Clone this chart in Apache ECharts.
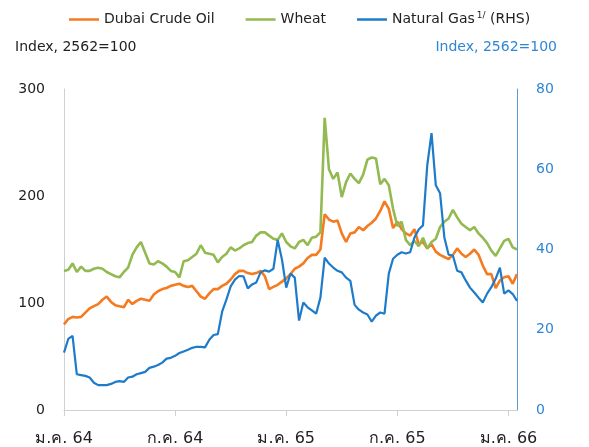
<!DOCTYPE html>
<html>
<head>
<meta charset="utf-8">
<script src="https://cdn.jsdelivr.net/npm/echarts@6/dist/echarts.min.js"></script>
<style>
  html, body { margin: 0; padding: 0; background: #fff; }
  #chart { width: 589px; height: 447px; }
</style>
</head>
<body>
<div id="chart"></div>
<script>
// weekly index, 2562 = 100 (Jan 2021 - Jan 2023)
var oilData = [
  80, 85, 87, 86.5, 87, 91, 95, 97, 99, 103, 106, 101, 98, 97, 96, 103, 99, 102, 104, 103,
  102, 108, 111, 113, 114, 116, 117, 118, 116, 115, 116, 111, 106, 104, 109, 113, 113, 116, 118, 122,
  127, 130, 130, 128, 127, 128, 130, 125, 113, 115, 117, 120, 123, 127, 132, 134, 137, 142, 145, 145,
  150, 183, 178, 176, 177, 165, 157, 165, 166, 171, 168, 172, 175, 179, 186, 195, 188, 170, 176, 169,
  165, 163, 169, 155, 157, 151, 155, 148, 145, 143, 141, 145, 151, 146, 143, 146, 150, 145, 135, 127,
  127, 114, 121, 124, 125, 118, 127
];
var wheatData = [
  130, 131, 137, 129, 134, 130, 130, 132, 133, 132, 129, 127, 125, 124, 129, 133, 145, 152, 157, 147,
  137, 136, 139, 137, 134, 130, 129, 124, 139, 140, 143, 146, 154, 147, 146, 145, 138, 143, 146, 152,
  149, 151, 154, 156, 157, 163, 166, 166, 163, 160, 159, 165, 157, 153, 151, 157, 159, 154, 161, 162,
  166, 273, 225, 216, 222, 199, 213, 221, 216, 212, 220, 234, 236, 235, 211, 216, 210, 188, 172, 176,
  159, 154, 158, 153, 161, 151, 157, 160, 171, 176, 179, 187, 180, 174, 171, 168, 171, 165, 161, 156,
  149, 144, 151, 158, 160, 152, 150
];
var gasData = [
  14.3, 17.7, 18.5, 8.9, 8.7, 8.5, 8.1, 6.8, 6.2, 6.2, 6.2, 6.5, 7, 7.2, 7, 8.1, 8.3, 8.9, 9.2, 9.5,
  10.5, 10.8, 11.2, 11.8, 12.8, 13, 13.5, 14.2, 14.6, 15, 15.5, 15.75, 15.75, 15.6, 17.5, 18.7, 18.9, 24.5, 27.5, 30.8,
  32.5, 33.4, 33.3, 30.3, 31.3, 31.8, 34.3, 34.8, 34.5, 35.2, 42.4, 37.5, 30.5, 34, 33, 22.3, 26.8, 25.6, 24.8, 24,
  28, 38, 36.5, 35.5, 34.7, 34.3, 33, 32.2, 26.2, 25, 24.3, 23.8, 22, 23.5, 24.3, 24, 34, 37.7, 38.7, 39.3,
  39, 39.3, 43, 45, 46, 61, 69, 56, 54, 43, 38.7, 38.5, 34.7, 34.3, 32.3, 30.5, 29.3, 28, 26.8, 29,
  30.6, 32.7, 35.5, 29, 29.8, 28.9, 27.2
];
var tickLabels = ['ม.ค. 64', 'ก.ค. 64', 'ม.ค. 65', 'ก.ค. 65', 'ม.ค. 66'];
var tickIndex = [0, 26, 52, 78, 104];

var weeks = [];
var d0 = new Date(2021, 0, 1);
for (var i = 0; i < oilData.length; i++) {
  var d = new Date(d0.getTime() + i * 7 * 86400000);
  weeks.push(d.getFullYear() + '-' + (d.getMonth() + 1) + '-' + d.getDate());
}

var isTick = function (idx) { return tickIndex.indexOf(idx) >= 0; };
var font = 'DejaVu Sans, Verdana, sans-serif';

var option = {
  animation: false,
  color: ['#F47B20', '#92BA50', '#1E7BC9'],
  textStyle: { fontFamily: font },
  legend: {
    top: 6,
    left: 64,
    icon: 'rect',
    itemWidth: 30,
    itemHeight: 2.5,
    itemGap: 31,
    textStyle: {
      fontFamily: font,
      fontSize: 14,
      color: '#222',
      rich: {
        sup: { fontSize: 9, verticalAlign: 'top', padding: [0, 0, 8, 2], color: '#222', fontFamily: font },
        t: { fontSize: 14, color: '#222', fontFamily: font }
      }
    },
    formatter: function (name) {
      if (name === 'Natural Gas') return '{t|Natural Gas}{sup|1/}{t| (RHS)}';
      return name;
    },
    data: ['Dubai Crude Oil', 'Wheat', 'Natural Gas']
  },
  graphic: [
    { type: 'text', left: 15, top: 40, style: { text: 'Index, 2562=100', font: '14px ' + font, fill: '#222' } },
    { type: 'text', right: 32, top: 40, style: { text: 'Index, 2562=100', font: '14px ' + font, fill: '#2E86D4' } }
  ],
  grid: { left: 64, right: 72, top: 89, bottom: 37 },
  xAxis: {
    type: 'category',
    data: weeks,
    boundaryGap: false,
    axisLine: { lineStyle: { color: '#D0D0D0', width: 1 } },
    axisTick: { interval: isTick, length: 6, lineStyle: { color: '#D0D0D0' } },
    axisLabel: {
      interval: isTick,
      margin: 21,
      fontSize: 16,
      color: '#222',
      fontFamily: font,
      formatter: function (v, idx) {
        var k = tickIndex.indexOf(idx);
        return k >= 0 ? tickLabels[k] : '';
      }
    },
    splitLine: { show: false }
  },
  yAxis: [
    {
      type: 'value',
      min: 0,
      max: 300,
      interval: 100,
      axisLine: { show: true, lineStyle: { color: '#D0D0D0' } },
      axisTick: { show: false },
      splitLine: { show: false },
      axisLabel: { margin: 19, fontSize: 14, color: '#222', fontFamily: font }
    },
    {
      type: 'value',
      min: 0,
      max: 80,
      interval: 20,
      position: 'right',
      axisLine: { show: true, lineStyle: { color: '#5B9BD5' } },
      axisTick: { show: false },
      splitLine: { show: false },
      axisLabel: { margin: 19, fontSize: 14, color: '#2E86D4', fontFamily: font }
    }
  ],
  series: [
    { name: 'Dubai Crude Oil', type: 'line', data: oilData, showSymbol: false, lineStyle: { width: 2.6 } },
    { name: 'Wheat', type: 'line', data: wheatData, showSymbol: false, lineStyle: { width: 2.6 } },
    { name: 'Natural Gas', type: 'line', yAxisIndex: 1, data: gasData, showSymbol: false, lineStyle: { width: 2.2 } }
  ]
};

var myChart = echarts.init(document.getElementById('chart'));
myChart.setOption(option);
</script>
</body>
</html>
